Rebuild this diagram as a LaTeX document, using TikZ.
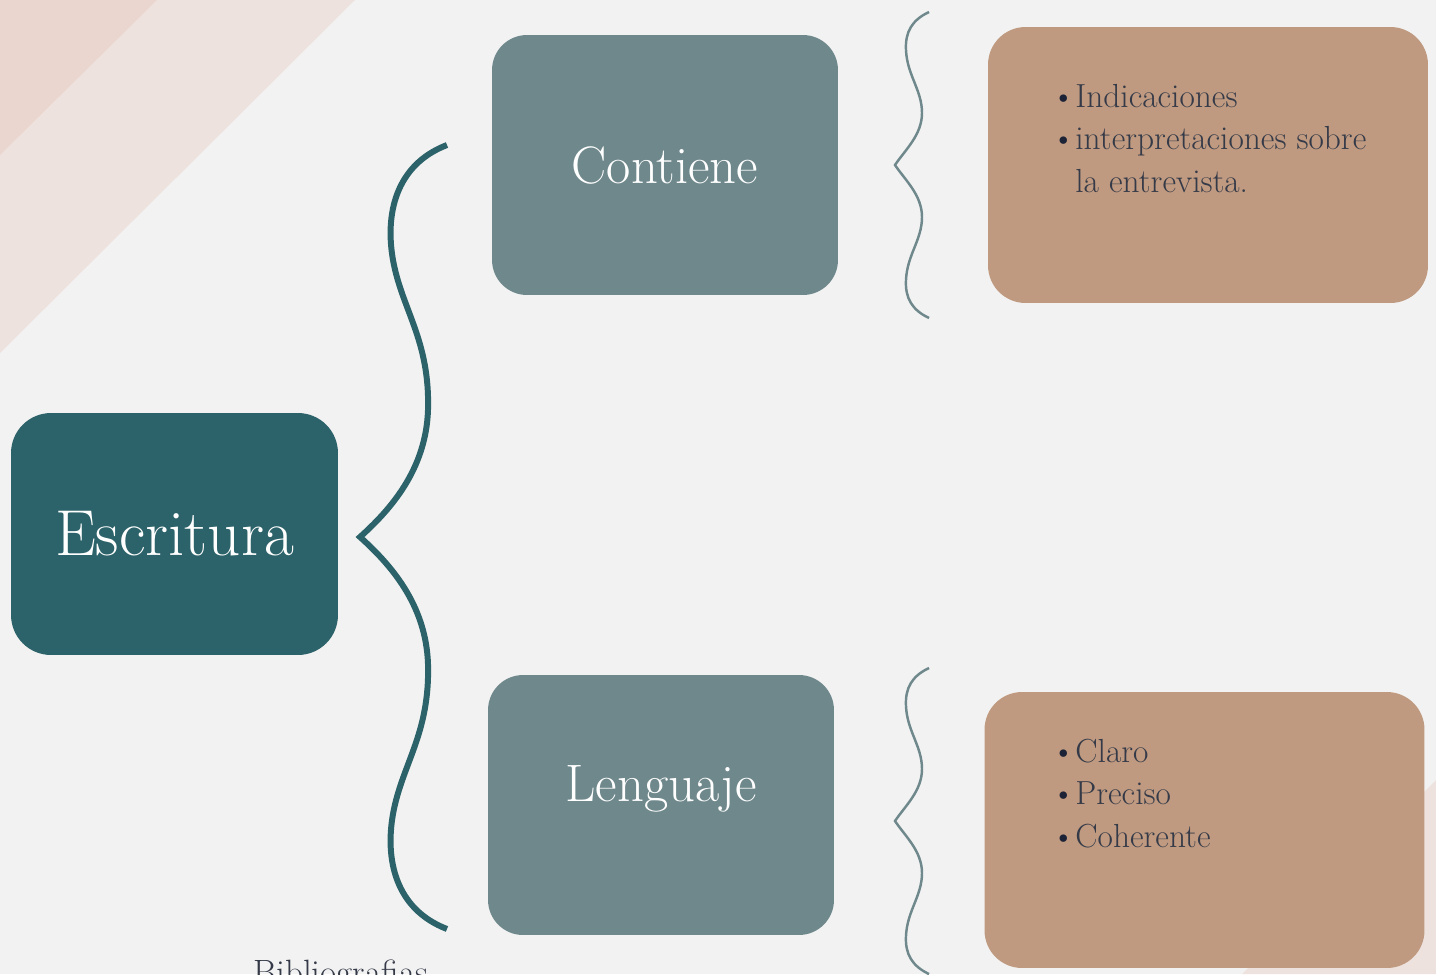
\documentclass[tikz,border=0pt]{standalone}
\usepackage{tikz}
\definecolor{fondo}{HTML}{F2F2F2}
\definecolor{rosaA}{HTML}{EBD6CF}
\definecolor{rosaB}{HTML}{EEE2DE}
\definecolor{tealA}{HTML}{2C6269}
\definecolor{tealB}{HTML}{6F888C}
\definecolor{arena}{HTML}{BF9A80}
\definecolor{tinta}{HTML}{353A48}
\definecolor{punto}{HTML}{1C2336}
\newcommand{\pto}{\textcolor{punto}{\textbullet}}

\begin{document}
\begin{tikzpicture}[x=0.02cm,y=-0.02cm,
    raiz/.style={fill=tealA,rounded corners=0.8cm,minimum width=6.54cm,minimum height=4.84cm,inner sep=0pt,text=white,font=\fontsize{37}{44}\selectfont},
    rama/.style={fill=tealB,rounded corners=0.7cm,minimum width=6.92cm,minimum height=5.2cm,inner sep=0pt,text=white,font=\fontsize{30}{36}\selectfont},
    hoja/.style={fill=arena,rounded corners=0.75cm,minimum width=8.8cm,minimum height=5.52cm,inner sep=0pt},
    lista/.style={inner sep=0pt,anchor=base west,text=tinta,font=\fontsize{19}{24.4}\selectfont}]
                \useasboundingbox (0,0) rectangle (1436,974);
                \clip (0,0) rectangle (1436,974);
                % fondo y franjas
                \fill[fondo] (0,0) rectangle (1436,974);
                \fill[rosaB] (0,0) -- (355,0) -- (0,353) -- cycle;
                \fill[rosaA] (0,0) -- (157,0) -- (0,155) -- cycle;
                \fill[rosaB] (1436,780) -- (1436,974) -- (1242,974) -- cycle;
                % cajas
                \node[raiz] (escritura) at (174.5,534) {Escritura};
                \node[rama] (contiene) at (665,165) {Contiene};
                \node[rama] (lenguaje) at (661,805) {};
                \node[inner sep=0pt,text=white,font=\fontsize{30}{36}\selectfont] (lenguajetxt) at (661,789) {Lenguaje};
                \node[hoja] (contenido) at (1208,165) {};
                \node[hoja] (rasgos) at (1204.5,830) {};
                \node[lista] (contlista) at (1051,107) {\begin{tabular}[t]{@{}l@{\hspace{0pt}}l@{}}
                    \pto & Indicaciones\\
                    \pto & interpretaciones sobre\\
                    & la entrevista.\end{tabular}};
                \node[lista] (rasglista) at (1051,762) {\begin{tabular}[t]{@{}l@{\hspace{0pt}}l@{}}
                    \pto & Claro\\
                    \pto & Preciso\\
                    \pto & Coherente\end{tabular}};
                \node[lista,font=\fontsize{20}{24}\selectfont] (biblio) at (253,984) {Bibliografias};
                % llave grande
                \draw[tealA,line width=3.4pt]
                    (447,145) .. controls (395,165) and (385,215) .. (393,260)
                    .. controls (402,310) and (430,340) .. (428,410)
                    .. controls (426,470) and (390,510) .. (360,537)
                    .. controls (390,564) and (426,604) .. (428,664)
                    .. controls (430,734) and (402,764) .. (393,814)
                    .. controls (385,859) and (395,909) .. (447,929);
                % llaves finas
                \foreach \t in {165,821}
                    \draw[tealB,line width=1.4pt]
                        (929,\t-153) .. controls (912,\t-145) and (905,\t-133) .. (906,\t-115)
                        .. controls (907,\t-90) and (922,\t-75) .. (922,\t-52)
                        .. controls (922,\t-30) and (905,\t-15) .. (895,\t)
                        .. controls (905,\t+15) and (922,\t+30) .. (922,\t+52)
                        .. controls (922,\t+75) and (907,\t+90) .. (906,\t+115)
                        .. controls (905,\t+133) and (912,\t+145) .. (929,\t+153);
            \end{tikzpicture}
\end{document}
